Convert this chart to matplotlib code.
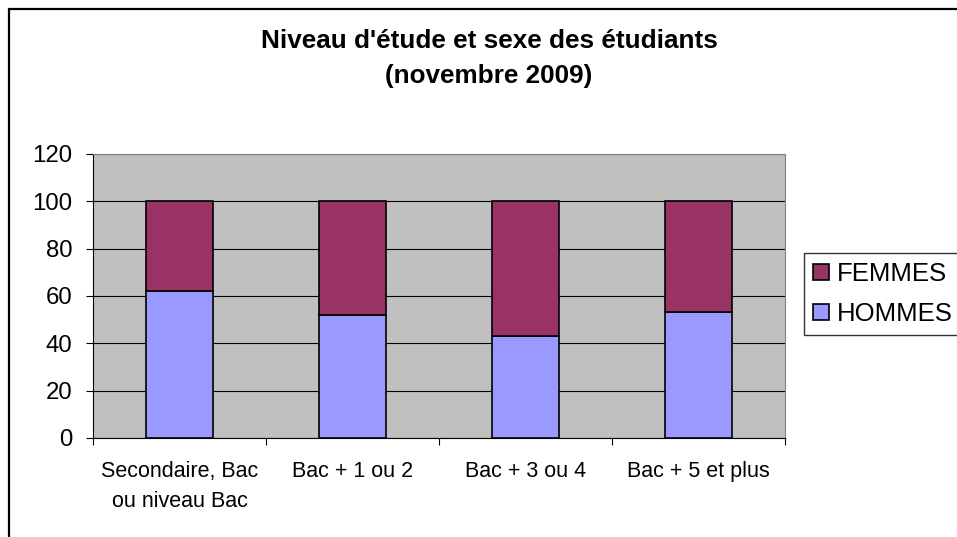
import numpy as np
import matplotlib
matplotlib.use("Agg")
import matplotlib.pyplot as plt
from matplotlib.patches import Rectangle

categories = ["Secondaire, Bac\nou niveau Bac", "Bac + 1 ou 2", "Bac + 3 ou 4", "Bac + 5 et plus"]
hommes = [62, 52, 43.3, 53.4]
femmes = [100 - h for h in hommes]
y_ticks = [0, 20, 40, 60, 80, 100, 120]

col_hommes = '#9999FF'
col_femmes = '#993366'

plt.rcParams['font.family'] = ['Liberation Sans', 'DejaVu Sans']

W, H = 957, 537
fig = plt.figure(figsize=(W / 100, H / 100), dpi=100)
fig.patch.set_facecolor('white')

# chart area frame (runs past the right/bottom edges)
fig.patches.append(Rectangle((8.5 / W, -0.02), 1.1, (H - 9) / H + 0.02,
                             transform=fig.transFigure, fill=False,
                             edgecolor='black', linewidth=1.6))

ax = fig.add_axes([93 / W, (H - 438) / H, (785 - 93) / W, (438 - 154) / H])
ax.set_facecolor('#C0C0C0')

x = np.arange(len(categories))
bw = 0.39
ax.bar(x, hommes, bw, color=col_hommes, edgecolor='black', linewidth=1.2,
       label='HOMMES', zorder=3)
ax.bar(x, femmes, bw, bottom=hommes, color=col_femmes, edgecolor='black',
       linewidth=1.2, label='FEMMES', zorder=3)

ax.set_xlim(-0.5, len(categories) - 0.5)
ax.set_ylim(0, 120)
ax.set_yticks(y_ticks)
ax.yaxis.grid(True, color='black', linewidth=0.8, zorder=1)
ax.set_axisbelow(True)

ax.set_xticks(x)
ax.set_xticklabels(categories, fontsize=15.5, linespacing=1.58)
ax.set_xticks(np.arange(len(categories) + 1) - 0.5, minor=True)
ax.tick_params(axis='x', which='major', length=0, pad=16.5)
ax.tick_params(axis='x', which='minor', length=5, width=0.8, direction='out')
ax.tick_params(axis='y', labelsize=17.3, length=5, width=0.8, pad=10)

for s in ['left', 'bottom']:
    ax.spines[s].set_color('black')
    ax.spines[s].set_linewidth(0.8)
for s in ['top', 'right']:
    ax.spines[s].set_color('#808080')
    ax.spines[s].set_linewidth(0.8)

# title, two lines
fig.text(489 / W, (H - 48) / H, "Niveau d'étude et sexe des étudiants",
         ha='center', va='baseline', fontsize=18.8, fontweight='bold')
fig.text(489 / W, (H - 83) / H, "(novembre 2009)",
         ha='center', va='baseline', fontsize=18.8, fontweight='bold')

handles, labels = ax.get_legend_handles_labels()
leg = fig.legend(handles[::-1], labels[::-1], loc='upper left',
                 bbox_to_anchor=(804 / W, (H - 253) / H), fontsize=18.5,
                 frameon=True, fancybox=False, edgecolor='black',
                 handlelength=0.62, handleheight=0.6, handletextpad=0.31,
                 borderpad=0.35, labelspacing=0.62, borderaxespad=0)
leg.get_frame().set_linewidth(1.0)

fig.savefig('out.png', dpi=100)
